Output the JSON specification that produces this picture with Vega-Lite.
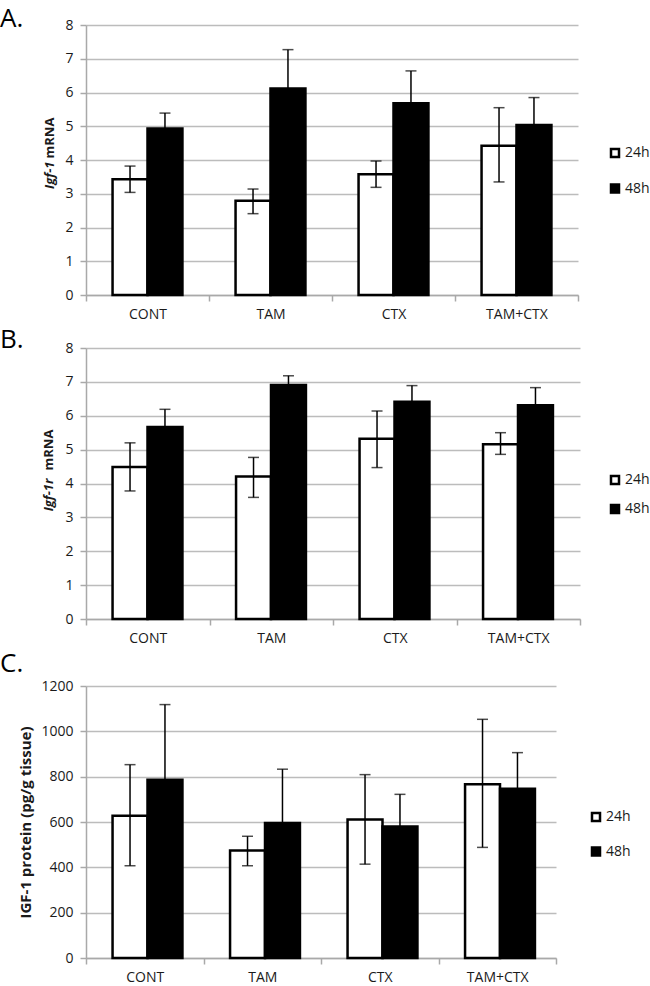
{
  "$schema": "https://vega.github.io/schema/vega-lite/v6.json",
  "padding": {"top": 6, "left": 0, "right": 0, "bottom": 0},
  "background": "white",
  "spacing": 6,
  "resolve": {"scale": {"fill": "independent"}, "legend": {"fill": "independent"}},
  "datasets": {
    "A": [
      {"g": "CONT", "t": "24h", "v": 3.43, "lo": 3.04, "hi": 3.82},
      {"g": "CONT", "t": "48h", "v": 4.93, "lo": 4.47, "hi": 5.39},
      {"g": "TAM", "t": "24h", "v": 2.79, "lo": 2.41, "hi": 3.14},
      {"g": "TAM", "t": "48h", "v": 6.12, "lo": 4.98, "hi": 7.27},
      {"g": "CTX", "t": "24h", "v": 3.58, "lo": 3.19, "hi": 3.97},
      {"g": "CTX", "t": "48h", "v": 5.68, "lo": 4.72, "hi": 6.64},
      {"g": "TAM+CTX", "t": "24h", "v": 4.42, "lo": 3.35, "hi": 5.55},
      {"g": "TAM+CTX", "t": "48h", "v": 5.04, "lo": 4.23, "hi": 5.85}
    ],
    "B": [
      {"g": "CONT", "t": "24h", "v": 4.49, "lo": 3.78, "hi": 5.2},
      {"g": "CONT", "t": "48h", "v": 5.67, "lo": 5.15, "hi": 6.19},
      {"g": "TAM", "t": "24h", "v": 4.21, "lo": 3.59, "hi": 4.77},
      {"g": "TAM", "t": "48h", "v": 6.91, "lo": 6.64, "hi": 7.18},
      {"g": "CTX", "t": "24h", "v": 5.32, "lo": 4.47, "hi": 6.14},
      {"g": "CTX", "t": "48h", "v": 6.41, "lo": 5.93, "hi": 6.89},
      {"g": "TAM+CTX", "t": "24h", "v": 5.16, "lo": 4.86, "hi": 5.5},
      {"g": "TAM+CTX", "t": "48h", "v": 6.31, "lo": 5.79, "hi": 6.83}
    ],
    "C": [
      {"g": "CONT", "t": "24h", "v": 628, "lo": 407, "hi": 853},
      {"g": "CONT", "t": "48h", "v": 786, "lo": 454, "hi": 1118},
      {"g": "TAM", "t": "24h", "v": 474, "lo": 407, "hi": 537},
      {"g": "TAM", "t": "48h", "v": 596, "lo": 360, "hi": 833},
      {"g": "CTX", "t": "24h", "v": 611, "lo": 414, "hi": 809},
      {"g": "CTX", "t": "48h", "v": 580, "lo": 438, "hi": 722},
      {"g": "TAM+CTX", "t": "24h", "v": 767, "lo": 488, "hi": 1053},
      {"g": "TAM+CTX", "t": "48h", "v": 747, "lo": 588, "hi": 906}
    ]
  },
  "config": {
    "font": "Open Sans",
    "view": {"stroke": null},
    "axis": {
      "labelFont": "Open Sans", "labelFontSize": 14, "labelColor": "#1a1a1a",
      "titleFont": "Open Sans", "titleFontSize": 13, "titleFontWeight": "bold", "titleColor": "#1a1a1a",
      "domainColor": "#a9a9a9", "domainWidth": 1.5,
      "tickColor": "#a9a9a9", "tickWidth": 1.5, "tickSize": 6,
      "gridColor": "#bcbcbc", "gridWidth": 1.5
    },
    "axisX": {"grid": false, "labelAngle": 0, "tickBand": "extent", "labelPadding": 6},
    "axisY": {"labelPadding": 7},
    "legend": {
      "orient": "none", "symbolType": "square", "symbolSize": 64,
      "symbolStrokeColor": "black", "symbolStrokeWidth": 2.5,
      "labelFont": "Open Sans", "labelFontSize": 14, "labelColor": "#1a1a1a",
      "labelOffset": 3, "padding": 0
    },
    "title": {"font": "Open Sans", "fontSize": 26, "fontWeight": "normal", "color": "black", "anchor": "start", "frame": "group", "dx": -86, "offset": 0, "baseline": "bottom"}
  },
  "vconcat": [
    {
      "title": {"text": "A.", "dy": 18},
      "width": 492, "height": 270,
      "data": {"name": "A"},
      "encoding": {
        "x": {"field": "g", "type": "nominal", "sort": ["CONT", "TAM", "CTX", "TAM+CTX"], "scale": {"paddingInner": 0, "paddingOuter": 0}, "axis": {"title": null}},
        "xOffset": {"field": "t", "type": "nominal", "sort": ["24h", "48h"], "scale": {"paddingInner": 0, "paddingOuter": 0.76}}
      },
      "layer": [
        {
          "mark": {"type": "bar", "stroke": "black", "strokeWidth": 2.5},
          "encoding": {
            "y": {"field": "v", "type": "quantitative", "scale": {"domain": [0, 8], "nice": false}, "axis": {"values": [0, 1, 2, 3, 4, 5, 6, 7, 8], "title": "mRNA", "titleAlign": "left", "titleAngle": -90, "titleBaseline": "alphabetic", "titleX": -33, "titleY": 133}},
            "fill": {"field": "t", "type": "nominal", "scale": {"domain": ["24h", "48h"], "range": ["white", "black"]}, "legend": {"title": null, "legendX": 522, "legendY": 121, "rowPadding": 17.5}}
          }
        },
        {
          "mark": {"type": "rule", "color": "black", "strokeWidth": 1.5},
          "encoding": {
            "y": {"field": "lo", "type": "quantitative", "scale": {"domain": [0, 8], "nice": false}, "axis": {"orient": "left", "labels": false, "ticks": false, "domain": false, "grid": false, "title": "Igf-1", "titleFontStyle": "italic", "titleAlign": "right", "titleAngle": -90, "titleBaseline": "alphabetic", "titleX": -33, "titleY": 136}},
            "y2": {"field": "hi"}
          }
        },
        {
          "mark": {"type": "tick", "color": "black", "thickness": 1.5, "size": 11},
          "encoding": {"y": {"field": "hi", "type": "quantitative", "axis": null}}
        },
        {
          "mark": {"type": "tick", "color": "black", "thickness": 1.5, "size": 11},
          "encoding": {"y": {"field": "lo", "type": "quantitative", "axis": null}}
        }
      ],
      "resolve": {"axis": {"y": "independent"}}
    },
    {
      "title": {"text": "B.", "dy": 16},
      "width": 494, "height": 271,
      "data": {"name": "B"},
      "encoding": {
        "x": {"field": "g", "type": "nominal", "sort": ["CONT", "TAM", "CTX", "TAM+CTX"], "scale": {"paddingInner": 0, "paddingOuter": 0}, "axis": {"title": null}},
        "xOffset": {"field": "t", "type": "nominal", "sort": ["24h", "48h"], "scale": {"paddingInner": 0, "paddingOuter": 0.76}}
      },
      "layer": [
        {
          "mark": {"type": "bar", "stroke": "black", "strokeWidth": 2.5},
          "encoding": {
            "y": {"field": "v", "type": "quantitative", "scale": {"domain": [0, 8], "nice": false}, "axis": {"values": [0, 1, 2, 3, 4, 5, 6, 7, 8], "title": "mRNA", "titleAlign": "left", "titleAngle": -90, "titleBaseline": "alphabetic", "titleX": -34, "titleY": 122}},
            "fill": {"field": "t", "type": "nominal", "scale": {"domain": ["24h", "48h"], "range": ["white", "black"]}, "legend": {"title": null, "legendX": 522, "legendY": 125, "rowPadding": 11}}
          }
        },
        {
          "mark": {"type": "rule", "color": "black", "strokeWidth": 1.5},
          "encoding": {
            "y": {"field": "lo", "type": "quantitative", "scale": {"domain": [0, 8], "nice": false}, "axis": {"orient": "left", "labels": false, "ticks": false, "domain": false, "grid": false, "title": "Igf-1r", "titleFontStyle": "italic", "titleAlign": "right", "titleAngle": -90, "titleBaseline": "alphabetic", "titleX": -34, "titleY": 130}},
            "y2": {"field": "hi"}
          }
        },
        {
          "mark": {"type": "tick", "color": "black", "thickness": 1.5, "size": 11},
          "encoding": {"y": {"field": "hi", "type": "quantitative", "axis": null}}
        },
        {
          "mark": {"type": "tick", "color": "black", "thickness": 1.5, "size": 11},
          "encoding": {"y": {"field": "lo", "type": "quantitative", "axis": null}}
        }
      ],
      "resolve": {"axis": {"y": "independent"}}
    },
    {
      "title": {"text": "C.", "dy": 2},
      "width": 470, "height": 272,
      "data": {"name": "C"},
      "encoding": {
        "x": {"field": "g", "type": "nominal", "sort": ["CONT", "TAM", "CTX", "TAM+CTX"], "scale": {"paddingInner": 0, "paddingOuter": 0}, "axis": {"title": null}},
        "xOffset": {"field": "t", "type": "nominal", "sort": ["24h", "48h"], "scale": {"paddingInner": 0, "paddingOuter": 0.78}}
      },
      "layer": [
        {
          "mark": {"type": "bar", "stroke": "black", "strokeWidth": 2.5},
          "encoding": {
            "y": {"field": "v", "type": "quantitative", "scale": {"domain": [0, 1200], "nice": false}, "axis": {"values": [0, 200, 400, 600, 800, 1000, 1200], "format": "d", "title": "IGF-1 protein (pg/g tissue)", "titleFontSize": 15, "titleAngle": -90, "titleBaseline": "alphabetic", "titleX": -56, "titleY": 136}},
            "fill": {"field": "t", "type": "nominal", "scale": {"domain": ["24h", "48h"], "range": ["white", "black"]}, "legend": {"title": null, "legendX": 503, "legendY": 124, "rowPadding": 16.5}}
          }
        },
        {
          "mark": {"type": "rule", "color": "black", "strokeWidth": 1.5},
          "encoding": {
            "y": {"field": "lo", "type": "quantitative", "scale": {"domain": [0, 1200], "nice": false}},
            "y2": {"field": "hi"}
          }
        },
        {
          "mark": {"type": "tick", "color": "black", "thickness": 1.5, "size": 11},
          "encoding": {"y": {"field": "hi", "type": "quantitative"}}
        },
        {
          "mark": {"type": "tick", "color": "black", "thickness": 1.5, "size": 11},
          "encoding": {"y": {"field": "lo", "type": "quantitative"}}
        }
      ]
    }
  ]
}
